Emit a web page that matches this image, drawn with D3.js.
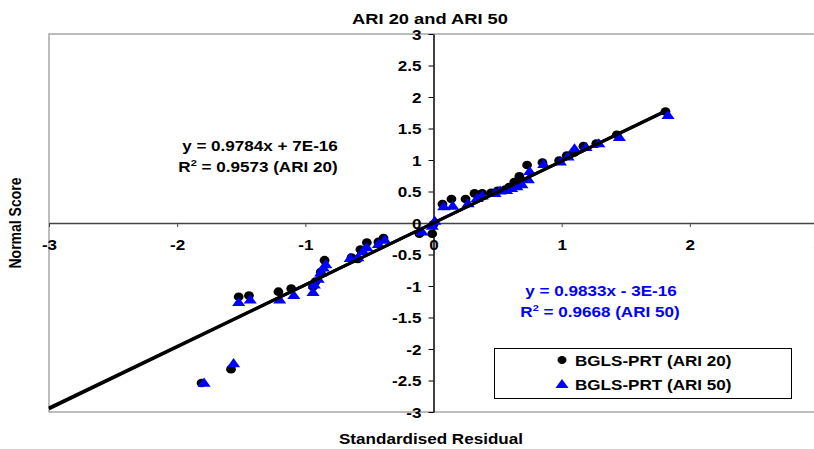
<!DOCTYPE html>
<html>
<head>
<meta charset="utf-8">
<script src="https://cdn.jsdelivr.net/npm/d3@7/dist/d3.min.js"></script>
<style>
  html, body { margin: 0; padding: 0; background: #fff; }
  svg text { font-family: "Liberation Sans", Arial, sans-serif; font-weight: bold; }
</style>
</head>
<body>
<svg id="chart" width="814" height="449"></svg>
<script>
// Normal probability plot of standardised residuals, ARI 20 vs ARI 50
const ari20X = [-1.81, -1.58, -1.52, -1.44, -1.21, -1.11, -0.94, -0.92, -0.88, -0.85,
                -0.64, -0.59, -0.57, -0.52, -0.43, -0.39, -0.11, -0.01, 0.0, 0.07,
                0.14, 0.25, 0.32, 0.38, 0.45, 0.50, 0.56, 0.59, 0.63, 0.67,
                0.73, 0.85, 0.98, 1.04, 1.10, 1.17, 1.27, 1.43, 1.81];
const ari20Y = [-2.54, -2.32, -1.17, -1.15, -1.09, -1.04, -1.01, -0.93, -0.78, -0.59,
                -0.55, -0.57, -0.42, -0.31, -0.30, -0.24, -0.17, -0.17, -0.02, 0.30,
                0.38, 0.38, 0.47, 0.47, 0.48, 0.51, 0.53, 0.57, 0.65, 0.74,
                0.92, 0.96, 0.99, 1.07, 1.12, 1.22, 1.26, 1.40, 1.77];

const ari50X = [-1.79, -1.56, -1.52, -1.43, -1.20, -1.09, -0.94, -0.93, -0.90, -0.88,
                -0.86, -0.84, -0.65, -0.59, -0.55, -0.52, -0.43, -0.38, -0.09, -0.01,
                0.01, 0.08, 0.15, 0.27, 0.34, 0.38, 0.48, 0.52, 0.57, 0.61,
                0.65, 0.69, 0.74, 0.75, 0.86, 0.99, 1.05, 1.10, 1.19, 1.29,
                1.45, 1.83];
const ari50Y = [-2.55, -2.24, -1.27, -1.23, -1.23, -1.16, -1.11, -0.99, -0.90, -0.80,
                -0.72, -0.67, -0.57, -0.56, -0.46, -0.40, -0.35, -0.28, -0.15, -0.06,
                0.02, 0.25, 0.26, 0.30, 0.38, 0.42, 0.46, 0.50, 0.51, 0.54,
                0.57, 0.60, 0.68, 0.81, 0.92, 0.96, 1.04, 1.17, 1.19, 1.25,
                1.35, 1.70];

// Linear trend fits (slope, intercept)
const trendSlope = [0.9784, 0.9833];
const trendIntercept = [7e-16, -3e-16];

const xTicks = [-3, -2, -1, 0, 1, 2, 3];
const yTicks = [-3, -2.5, -2, -1.5, -1, -0.5, 0, 0.5, 1, 1.5, 2, 2.5, 3];

const titleText = "ARI 20 and ARI 50";
const xTitle = "Standardised Residual";
const yTitle = "Normal Score";
const seriesNames = ["BGLS-PRT (ARI 20)", "BGLS-PRT (ARI 50)"];

const SX = 1.22; // horizontal glyph stretch
const BLUE = "#0000ff";

const svg = d3.select("#chart");
const x = d3.scaleLinear().domain([-3, 3]).range([49, 818]);
const y = d3.scaleLinear().domain([-3, 3]).range([412, 34]);

function label(parent, px, py, txt, opts = {}) {
  const t = parent.append("text")
    .attr("transform", `translate(${px},${py}) scale(${SX},1)` + (opts.rotate ? ` rotate(${opts.rotate})` : ""))
    .attr("text-anchor", opts.anchor || "middle")
    .attr("font-size", opts.size || 14)
    .attr("fill", opts.fill || "#000");
  if (txt !== null) t.text(txt);
  return t;
}

// plot area border
svg.append("rect")
  .attr("x", x(-3)).attr("y", y(3))
  .attr("width", x(3) - x(-3)).attr("height", y(-3) - y(3))
  .attr("fill", "none").attr("stroke", "#999").attr("stroke-width", 1.3);

// title
label(svg, 430, 24, titleText, { size: 15 });

// x axis through y = 0
const xAxis = svg.append("g")
  .attr("transform", `translate(0,${y(0)})`)
  .call(d3.axisBottom(x).tickValues(xTicks).tickSize(4).tickSizeOuter(0).tickFormat(d => String(d)));
xAxis.select(".domain").attr("stroke", "#444").attr("stroke-width", 1.6);
xAxis.selectAll(".tick line").attr("stroke", "#444");
xAxis.selectAll(".tick text")
  .attr("font-size", 14).attr("font-family", null).attr("y", 27).attr("dy", null)
  .attr("transform", `scale(${SX},1)`);

// y axis through x = 0
const yAxis = svg.append("g")
  .attr("transform", `translate(${x(0)},0)`)
  .call(d3.axisLeft(y).tickValues(yTicks).tickSize(5).tickSizeOuter(0).tickFormat(d => String(d)));
yAxis.select(".domain").attr("stroke", "#000").attr("stroke-width", 1.5);
yAxis.selectAll(".tick text")
  .attr("font-size", 14).attr("font-family", null).attr("x", -12 / SX).attr("dy", "0.36em")
  .attr("transform", `scale(${SX},1)`);

// axis titles
label(svg, 431, 444, xTitle, { size: 14 });
label(svg, 21, 223, yTitle, { size: 14, rotate: -90 });

// ARI 20 markers
const ari20 = ari20X.map((v, i) => [v, ari20Y[i]]);
const ari50 = ari50X.map((v, i) => [v, ari50Y[i]]);

svg.append("g").selectAll("ellipse").data(ari20).join("ellipse")
  .attr("cx", d => x(d[0])).attr("cy", d => y(d[1]))
  .attr("rx", 4.9).attr("ry", 4.3).attr("fill", "#000");

// ARI 50 markers
const tri = d3.symbol().type(d3.symbolTriangle).size(48);
svg.append("g").selectAll("path").data(ari50).join("path")
  .attr("d", tri)
  .attr("transform", d => `translate(${x(d[0])},${y(d[1])}) scale(1.25,1)`)
  .attr("fill", BLUE);

// trend lines
[ari20X, ari50X].forEach((xs, i) => {
  const xmax = d3.max(xs);
  const pts = [-3, xmax].map(v => [x(v), y(trendSlope[i] * v + trendIntercept[i])]);
  svg.append("path")
    .attr("d", d3.line()(pts))
    .attr("stroke", "#000").attr("stroke-width", 3).attr("fill", "none");
});

// trend equations
const eq20 = label(svg, 260, 151, "y = 0.9784x + 7E-16");
const r20 = label(svg, 258, 172, null);
r20.append("tspan").text("R");
r20.append("tspan").attr("font-size", 9).attr("dy", -6).text("2");
r20.append("tspan").attr("dy", 6).text(" = 0.9573 (ARI 20)");

label(svg, 601, 296, "y = 0.9833x - 3E-16", { fill: BLUE });
const r50 = label(svg, 600, 317, null, { fill: BLUE });
r50.append("tspan").text("R");
r50.append("tspan").attr("font-size", 9).attr("dy", -6).text("2");
r50.append("tspan").attr("dy", 6).text(" = 0.9668 (ARI 50)");

// legend
const lg = svg.append("g");
lg.append("rect").attr("x", 494.5).attr("y", 348.5).attr("width", 297).attr("height", 50)
  .attr("fill", "#fff").attr("stroke", "#000").attr("stroke-width", 1);
lg.append("ellipse").attr("cx", 562).attr("cy", 360).attr("rx", 4.5).attr("ry", 4).attr("fill", "#000");
lg.append("path").attr("d", tri).attr("transform", "translate(562,385) scale(1.25,1)").attr("fill", BLUE);
label(lg, 575, 366, seriesNames[0], { anchor: "start" });
label(lg, 575, 390, seriesNames[1], { anchor: "start" });
</script>
</body>
</html>
